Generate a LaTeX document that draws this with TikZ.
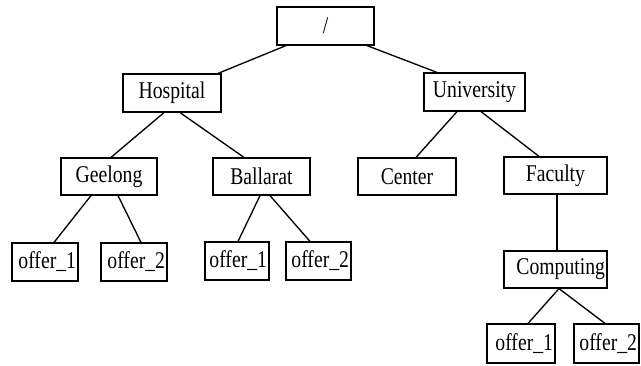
\documentclass[tikz,border=0pt]{standalone}
\usepackage{fontspec}
\setmainfont[FakeStretch=0.82]{Liberation Serif}
\usetikzlibrary{calc}
\begin{document}
\begin{tikzpicture}[x=0.75pt,y=-0.75pt,
  box/.style n args={2}{draw, line width=0.9pt, inner sep=0pt,
    minimum width=#1*0.75pt, minimum height=#2*0.75pt,
    font=\fontsize{18}{20}\selectfont},
  rbox/.style n args={2}{box={#1}{#2}, text width=#1*0.75pt-3pt, align=right},
  link/.style={line width=1pt}]
\useasboundingbox (0,0) rectangle (641,365);
% nodes
\node[box={97}{38}]  (root) at (325.5,26)   {/};
\node[box={98}{38}]  (hosp) at (172,93)     {Hospital};
\node[box={101}{38}] (univ) at (474.5,92)   {University};
\node[box={96}{37}]  (geel) at (109,176.5)  {Geelong};
\node[box={97}{37}]  (ball) at (261.5,176.5){Ballarat};
\node[box={98}{37}]  (cent) at (407,176.5)  {Center};
\node[box={103}{37}] (fac)  at (555.5,175.5){Faculty};
\node[rbox={103}{37}] (comp) at (555.5,269.5){Computing};
\node[rbox={66}{38}]  (go1)  at (45,262)     {offer\_1};
\node[rbox={66}{38}]  (go2)  at (134,262)    {offer\_2};
\node[rbox={64}{38}]  (bo1)  at (237,261)    {offer\_1};
\node[rbox={65}{38}]  (bo2)  at (318.5,261)  {offer\_2};
\node[rbox={68}{39}]  (co1)  at (521,343.5)  {offer\_1};
\node[rbox={65}{39}]  (co2)  at (606.5,343.5){offer\_2};
% connectors
\draw[link] ($(root.south)+(-39.5,0)$) -- ($(hosp.north)+(46,0)$);
\draw[link] ($(root.south)+(41.5,0)$)  -- ($(univ.north)+(-37.5,0)$);
\draw[link] ($(hosp.south)+(-8,0)$)    -- ($(geel.north)+(2,0)$);
\draw[link] ($(hosp.south)+(8,0)$)     -- ($(ball.north)+(-17.5,0)$);
\draw[link] ($(univ.south)+(-17.5,0)$) -- ($(cent.north)+(9,0)$);
\draw[link] ($(univ.south)+(6.5,0)$)   -- ($(fac.north)+(-16.5,0)$);
\draw[link] ($(fac.south)+(1.5,0)$)    -- ($(comp.north)+(1.5,0)$);
\draw[link] ($(geel.south)+(-18,0)$)   -- ($(go1.north)+(9,0)$);
\draw[link] ($(geel.south)+(9,0)$)     -- ($(go2.north)+(7,0)$);
\draw[link] ($(ball.south)+(-1.5,0)$)  -- ($(bo1.north)+(1,0)$);
\draw[link] ($(ball.south)+(8.5,0)$)   -- ($(bo2.north)+(-8.5,0)$);
\draw[link] ($(comp.south)+(3.5,0)$)   -- ($(co1.north)+(7,0)$);
\draw[link] ($(comp.south)+(3.5,0)$)   -- ($(co2.north)+(-1.5,0)$);
\end{tikzpicture}
\end{document}
